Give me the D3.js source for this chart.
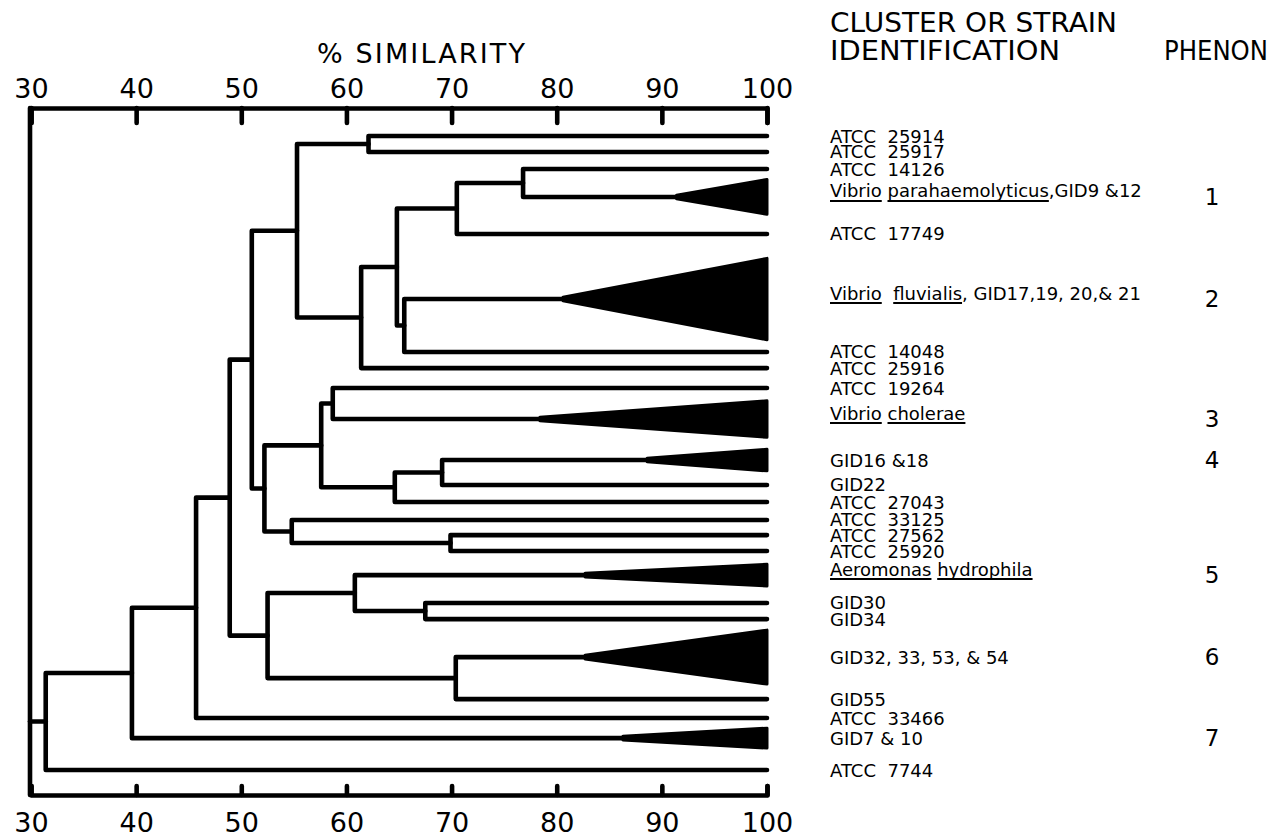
<!DOCTYPE html>
<html><head><meta charset="utf-8">
<script src="https://cdn.jsdelivr.net/npm/d3@7"></script>
<style>
body{margin:0;background:#fff;}
svg text{font-family:"DejaVu Sans", sans-serif; fill:#000; white-space:pre;}
</style></head><body>
<svg id="chart" width="1272" height="833"></svg>
<script>
// ---------- data ----------
const tickValues = [30, 40, 50, 60, 70, 80, 90, 100];
const axisTitle = "% SIMILARITY";
const headerLines = ["CLUSTER OR STRAIN", "IDENTIFICATION"];
const phenonHeader = "PHENON";

// label segments: [text, underlined]
const leafLabels = [
  [["ATCC  25914", false]],
  [["ATCC  25917", false]],
  [["ATCC  14126", false]],
  [["Vibrio", true], [" ", false], ["parahaemolyticus", true], [",GID9 &12", false]],
  [["ATCC  17749", false]],
  [["Vibrio", true], ["  ", false], ["fluvialis", true], [", GID17,19, 20,& 21", false]],
  [["ATCC  14048", false]],
  [["ATCC  25916", false]],
  [["ATCC  19264", false]],
  [["Vibrio", true], [" ", false], ["cholerae", true]],
  [["GID16 &18", false]],
  [["GID22", false]],
  [["ATCC  27043", false]],
  [["ATCC  33125", false]],
  [["ATCC  27562", false]],
  [["ATCC  25920", false]],
  [["Aeromonas", true], [" ", false], ["hydrophila", true]],
  [["GID30", false]],
  [["GID34", false]],
  [["GID32, 33, 53, & 54", false]],
  [["GID55", false]],
  [["ATCC  33466", false]],
  [["GID7 & 10", false]],
  [["ATCC  7744", false]]
];
// vertical row position of each leaf (row units)
const leafRows = [0, 0.96, 1.99, 3.67, 5.90, 9.82, 13.01, 13.98, 15.18, 17.05, 19.52, 21.02,
                  22.05, 23.13, 24.04, 25.0, 26.45, 28.13, 29.1, 31.39, 33.92, 35.06, 36.27, 38.19];
// % similarity at which a cluster wedge starts (100 = single strain)
const leafTips = [100, 100, 100, 91.4, 100, 80.6, 100, 100, 100, 78.4, 88.6, 100,
                  100, 100, 100, 100, 82.7, 100, 100, 82.7, 100, 100, 86.3, 100];
// height of cluster wedge at 100 % (row units)
const clusterSpans = [0, 0, 0, 2.1, 0, 4.9, 0, 0, 0, 2.2, 1.3, 0,
                      0, 0, 0, 0, 1.3, 0, 0, 3.25, 0, 0, 1.2, 0];
const phenons = ["", "", "", "1", "", "2", "", "", "", "3", "4", "",
                 "", "", "", "", "5", "", "", "6", "", "", "7", ""];
// merges: [child a, child b, % similarity]; new node id = 24 + index
const merges = [
  [2, 3, 76.8], [24, 4, 70.5], [5, 6, 65.5], [25, 26, 64.8], [0, 1, 62.1],
  [27, 7, 61.4], [28, 29, 55.3], [10, 11, 69.1], [31, 12, 64.6], [8, 9, 58.7],
  [33, 32, 57.6], [14, 15, 69.9], [13, 35, 54.8], [34, 36, 52.2], [30, 37, 51.0],
  [17, 18, 67.5], [16, 39, 60.8], [19, 20, 70.4], [40, 41, 52.5], [38, 42, 48.9],
  [43, 21, 45.7], [44, 22, 39.6], [45, 23, 31.4]
];

// ---------- drawing ----------
const svg = d3.select("#chart");
const x = d3.scaleLinear().domain([30, 100]).range([31, 767]);
const y = d3.scaleLinear().domain([0, 38.19]).range([136, 770]);
const frameTop = 108, frameBottom = 795;
const LW = 4.6;

// node positions
const nodes = leafRows.map((r, i) => ({ y: y(r), x: x(leafTips[i]), leaf: true, i }));
merges.forEach(([a, b, s]) => {
  nodes.push({ y: (nodes[a].y + nodes[b].y) / 2, x: x(s), a, b, leaf: false });
});

const g = svg.append("g");

// top axis
const topAxis = svg.append("g").attr("transform", `translate(0,${frameTop})`)
  .call(d3.axisTop(x).tickValues(tickValues).tickSizeInner(-15).tickSizeOuter(-15).tickPadding(10));
// bottom axis
const botAxis = svg.append("g").attr("transform", `translate(0,${frameBottom})`)
  .call(d3.axisBottom(x).tickValues(tickValues).tickSizeInner(-9).tickSizeOuter(-9).tickPadding(18));
[topAxis, botAxis].forEach(ax => {
  ax.attr("font-family", null).attr("font-size", null);
  ax.select(".domain").attr("stroke", "#000").attr("stroke-width", LW)
    .attr("stroke-linejoin", "round").attr("stroke-linecap", "round").attr("fill", "none");
  ax.selectAll(".tick line").attr("stroke", "#000").attr("stroke-width", LW).attr("stroke-linecap", "round");
  ax.selectAll(".tick text").style("font-size", "27px").attr("fill", "#000");
});
// left frame
g.append("line").attr("x1", x(30) - 1).attr("x2", x(30) - 1).attr("y1", frameTop).attr("y2", frameBottom)
  .attr("stroke", "#000").attr("stroke-width", LW).attr("stroke-linecap", "round");

// dendrogram links
const linkG = g.append("g").attr("fill", "none").attr("stroke", "#000")
  .attr("stroke-width", LW).attr("stroke-linejoin", "round").attr("stroke-linecap", "round");
nodes.filter(n => !n.leaf).forEach(n => {
  const A = nodes[n.a], B = nodes[n.b];
  const p = d3.path();
  p.moveTo(A.x, A.y); p.lineTo(n.x, A.y); p.lineTo(n.x, B.y); p.lineTo(B.x, B.y);
  linkG.append("path").attr("d", p.toString());
});
// root link to the frame
const root = nodes[nodes.length - 1];
linkG.append("path").attr("d", `M${x(30) - 1},${root.y}H${root.x}`);

// cluster wedges
const wedgeG = g.append("g").attr("fill", "#000").attr("stroke", "#000")
  .attr("stroke-width", 3).attr("stroke-linejoin", "round");
leafRows.forEach((r, i) => {
  if (clusterSpans[i] > 0) {
    const h = (y(clusterSpans[i]) - y(0)) / 2;
    const cy = y(r);
    wedgeG.append("path").attr("d",
      `M${x(leafTips[i])},${cy - 1.8}L${x(100)},${cy - h}L${x(100)},${cy + h}L${x(leafTips[i])},${cy + 1.8}Z`);
  }
});

// axis title
svg.append("text").attr("x", 317).attr("y", 63).style("font-size", "27px")
  .attr("textLength", 208).attr("lengthAdjust", "spacing").text(axisTitle);
// headers
const headerWidths = [287, 230];
headerLines.forEach((t, k) => {
  svg.append("text").attr("x", 830).attr("y", 32 + k * 28).style("font-size", "27px")
    .attr("textLength", headerWidths[k]).attr("lengthAdjust", "spacingAndGlyphs").text(t);
});
svg.append("text").attr("x", 1164).attr("y", 60).style("font-size", "27px")
  .attr("textLength", 104).attr("lengthAdjust", "spacingAndGlyphs").text(phenonHeader);

// leaf labels
const labG = svg.append("g");
leafLabels.forEach((parts, i) => {
  const hasUnder = parts.some(p => p[1]);
  const base = y(leafRows[i]) + 6.5 - (hasUnder ? 6 : 0);
  const t = labG.append("text").attr("x", 830).attr("y", base).style("font-size", "18px");
  const spans = parts.map(p => t.append("tspan").text(p[0]));
  parts.forEach((p, k) => {
    if (p[1]) {
      const bb = spans[k].node().getBBox();
      labG.append("line").attr("x1", bb.x).attr("x2", bb.x + bb.width)
        .attr("y1", base + 3.5).attr("y2", base + 3.5).attr("stroke", "#000").attr("stroke-width", 2);
    }
  });
  if (phenons[i]) {
    svg.append("text").attr("x", 1212).attr("y", y(leafRows[i]) + 8)
      .attr("text-anchor", "middle").style("font-size", "23px").text(phenons[i]);
  }
});
</script>
</body></html>
